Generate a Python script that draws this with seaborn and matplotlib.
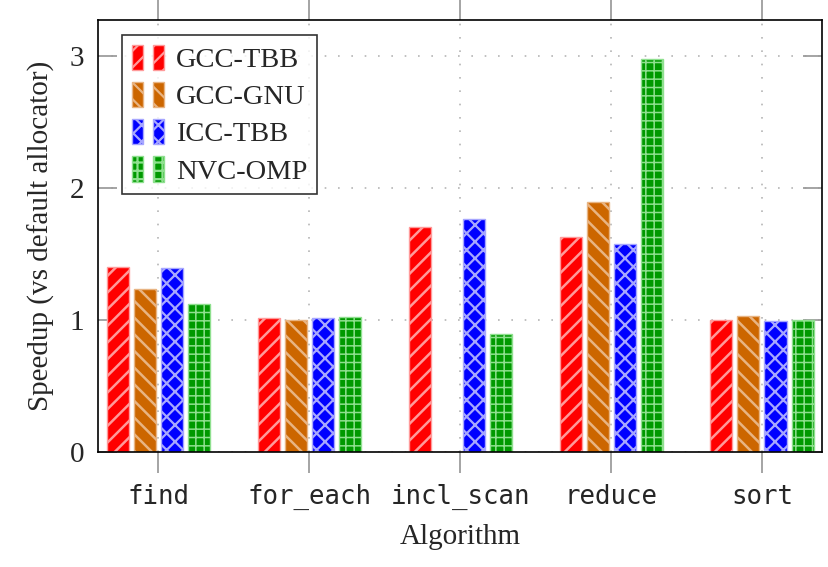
import pandas as pd
import seaborn as sns
import matplotlib.pyplot as plt
from matplotlib.patches import Patch
from matplotlib.legend_handler import HandlerTuple

# Data
algorithms = ["find", "for_each", "incl_scan", "reduce", "sort"]
gcc_tbb = [1.40, 1.01, 1.70, 1.63, 1.00]
gcc_gnu = [1.23, 1.00, 0.00, 1.89, 1.03]
icc_tbb = [1.39, 1.01, 1.76, 1.57, 0.99]
nvc_omp = [1.12, 1.02, 0.89, 2.97, 1.00]
compilers = ["GCC-TBB", "GCC-GNU", "ICC-TBB", "NVC-OMP"]

fills = ["#ff0000", "#cc6600", "#0000ff", "#009900"]
edges = ["#ff9a9a", "#e8b483", "#a6a6ff", "#8fe08f"]
hatches = ["//", "\\\\", "xx", "++"]
hatch_lw = [1.8, 1.8, 1.6, 1.1]

rows = []
for name, vals in zip(compilers, [gcc_tbb, gcc_gnu, icc_tbb, nvc_omp]):
    for alg, v in zip(algorithms, vals):
        rows.append({"Algorithm": alg, "Compiler": name, "Speedup": v})
df = pd.DataFrame(rows)

sns.set_theme(style="white")
plt.rcParams['font.family'] = ['Liberation Serif', 'DejaVu Serif']
plt.rcParams['hatch.linewidth'] = 1.6


def style_patch(p, i):
    p.set_facecolor(fills[i])
    p.set_edgecolor(edges[i])
    p.set_hatch(hatches[i])
    if hasattr(p, "set_hatch_linewidth"):
        p.set_hatch_linewidth(hatch_lw[i])


fig = plt.figure(figsize=(8.29, 5.67), dpi=100)
ax = fig.add_axes([0.118, 0.203, 0.874, 0.762])

sns.barplot(data=df, x="Algorithm", y="Speedup", hue="Compiler",
            hue_order=compilers, order=algorithms, palette=fills,
            width=0.716, gap=0.185, legend=False, ax=ax, errorbar=None)

# style bars per compiler
for i, cont in enumerate(ax.containers):
    for bar in cont:
        style_patch(bar, i)
        bar.set_linewidth(1.0)

ax.set_xlim(-0.4, 4.4)
ax.set_ylim(0, 3.27)
ax.set_yticks([0, 1, 2, 3])
ax.set_xlabel("Algorithm", fontsize=21, labelpad=10)
ax.set_ylabel("Speedup (vs default allocator)", fontsize=21, labelpad=10)
ax.grid(True, linestyle=(0, (1, 7)), color="#b5b5b5", linewidth=1.2)
ax.set_axisbelow(True)

for s in ax.spines.values():
    s.set_color("black")
    s.set_linewidth(1.2)

ax.tick_params(axis="x", direction="out", length=15, color="#999999",
               top=True, bottom=True, labelsize=18.5, pad=8)
ax.tick_params(axis="y", direction="in", length=14, color="#999999",
               left=True, right=True, labelsize=21, pad=10)
for lbl in ax.get_xticklabels():
    lbl.set_family("DejaVu Sans Mono")

# legend with two swatches per entry
handles = []
for i in range(4):
    p1 = Patch()
    p2 = Patch()
    style_patch(p1, i)
    style_patch(p2, i)
    handles.append((p1, p2))
leg = ax.legend(handles, compilers, handler_map={tuple: HandlerTuple(ndivide=None, pad=0.35)},
                loc="upper left", bbox_to_anchor=(0.033, 0.965), borderaxespad=0,
                fontsize=20.5, frameon=True, fancybox=False, edgecolor="black",
                handlelength=1.15, handleheight=1.0, handletextpad=0.4,
                labelspacing=0.3, borderpad=0.35)
leg.get_frame().set_linewidth(1.2)

plt.savefig("out.png", dpi=100)
